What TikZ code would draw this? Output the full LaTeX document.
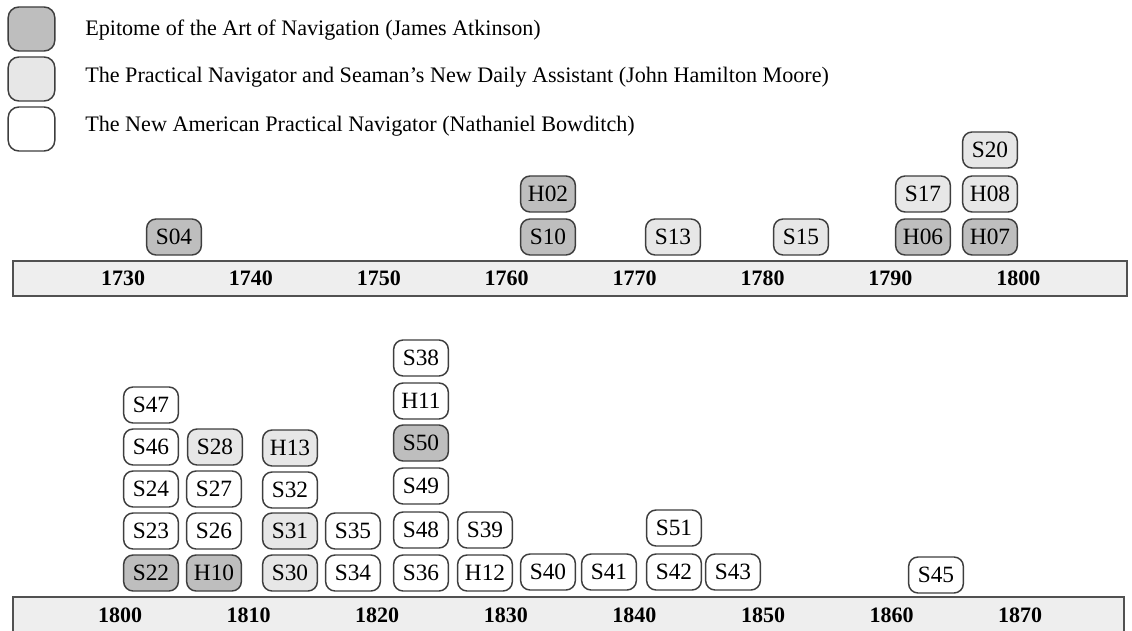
\documentclass[tikz,border=0pt]{standalone}
\usepackage{fontspec}
\setmainfont{Liberation Serif}
\usepackage{tikz}
\usetikzlibrary{positioning}
\definecolor{atkfill}{RGB}{190,190,190}
\definecolor{moorefill}{RGB}{231,231,231}
\definecolor{barfill}{RGB}{238,238,238}
\definecolor{boxline}{RGB}{62,62,62}
\tikzset{
  edbox/.style={draw=boxline, line width=1.1pt, rounded corners=7pt,
                minimum width=41pt, minimum height=27pt, inner sep=0pt,
                font=\fontsize{17.5}{17.5}\selectfont},
  atkbox/.style={edbox, fill=atkfill},
  moorebox/.style={edbox, fill=moorefill},
  bowbox/.style={edbox, fill=white},
  keybox/.style={draw=boxline, line width=1.1pt, rounded corners=8pt,
                 minimum width=35pt, minimum height=33pt, inner sep=0pt},
  keytext/.style={anchor=west, inner sep=0pt, font=\fontsize{16.6}{16.6}\selectfont},
  yearbar/.style={draw=boxline!90, fill=barfill, line width=1.4pt},
  yearlbl/.style={inner sep=0pt, font=\fontsize{16.5}{16.5}\selectfont\bfseries}
}

\begin{document}
\begin{tikzpicture}[x=0.75pt, y=-0.75pt]
  \clip (0,0) rectangle (1132,631);

  %% Legend
  \node[keybox, fill=atkfill]   (keyatk)   at (31.5,29)  {};
  \node[keybox, fill=moorefill] (keymoore) at (31.5,79)  {};
  \node[keybox, fill=white]     (keybow)   at (31.5,129) {};
  \node[keytext] (txtatk)   at (85,30)  {Epitome of the Art of Navigation (James Atkinson)};
  \node[keytext] (txtmoore) at (85,77)  {The Practical Navigator and Seaman's New Daily Assistant (John Hamilton Moore)};
  \node[keytext] (txtbow)   at (85,126) {The New American Practical Navigator (Nathaniel Bowditch)};

  %% Upper time line, 1730--1800
  \draw[yearbar] (13,261) rectangle (1127,296);
  \foreach \yr [count=\i from 0] in {1730,1740,...,1800}
    \node[yearlbl] (t\yr) at (123+127.9*\i,278) {\yr};

  \foreach \lbl/\x/\y in {S04/174/237, S10/548/237, H02/548/194,
      H06/923/237, H07/990/237}
    \node[atkbox] (\lbl) at (\x,\y) {\lbl};
  \foreach \lbl/\x/\y in {S13/673/237, S15/801/237, S17/923/194,
      H08/990/194, S20/990/150}
    \node[moorebox] (\lbl) at (\x,\y) {\lbl};

  %% Lower time line, 1800--1870
  \draw[yearbar] (13,597) rectangle (1124,660);
  \foreach \yr [count=\i from 0] in {1800,1810,...,1870}
    \node[yearlbl] (b\yr) at (120+128.6*\i,615) {\yr};

  \foreach \lbl/\x/\y in {S22/151/573, H10/214/573, S50/421/443}
    \node[atkbox] (\lbl) at (\x,\y) {\lbl};
  \foreach \lbl/\x/\y in {S28/215/447, H13/290/448, S31/290/531, S30/290/573}
    \node[moorebox] (\lbl) at (\x,\y) {\lbl};
  \foreach \lbl/\x/\y in {
      S47/151/405, S46/151/447, S24/151/489, S23/151/531,
      S27/214/489, S26/214/531,
      S32/290/490,
      S35/353/531, S34/353/573,
      S38/421/358, H11/421/401, S49/421/486, S48/421/530, S36/421/573,
      S39/485/530, H12/485/573,
      S40/548/572, S41/609/572, S51/674/528, S42/674/572, S43/733/572,
      S45/936/575}
    \node[bowbox] (\lbl) at (\x,\y) {\lbl};
\end{tikzpicture}
\end{document}
